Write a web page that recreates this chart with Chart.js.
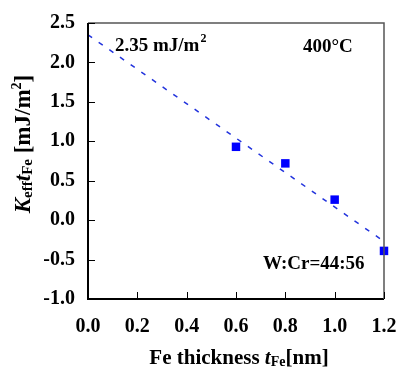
<!DOCTYPE html>
<html>
<head>
<meta charset="utf-8">
<script src="https://cdn.jsdelivr.net/npm/chart.js@4.4.0/dist/chart.umd.min.js"></script>
<style>
  html, body { margin: 0; padding: 0; background: #fff; }
  #wrap { width: 400px; height: 367px; }
</style>
</head>
<body>
<div id="wrap"><canvas id="chart" width="400" height="367"></canvas></div>
<script>
// Fe thickness (nm) and measured Keff*tFe (mJ/m^2)
var thickness = [0.6, 0.8, 1.0, 1.2];
var kefftFe = [0.93, 0.72, 0.26, -0.39];
// linear fit, intercept 2.35 mJ/m^2
var fitX = [0.0, 1.2];
var fitY = [2.35, -0.27];
var xTicks = [0.0, 0.2, 0.4, 0.6, 0.8, 1.0, 1.2];
var yTicks = [-1.0, -0.5, 0.0, 0.5, 1.0, 1.5, 2.0, 2.5];

var serif = "'Liberation Serif', 'Times New Roman', serif";

function toPoints(xs, ys) {
    var pts = [];
    for (var i = 0; i < xs.length; i++) {
        pts.push({ x: xs[i], y: ys[i] });
    }
    return pts;
}

// frame, inward ticks, titles and notes
var decor = {
    id: "decor",
    afterDraw: function (chart) {
        var ctx = chart.ctx;
        var a = chart.chartArea;
        var xs = chart.scales.x, ys = chart.scales.y;
        ctx.save();
        ctx.strokeStyle = "#000";
        ctx.lineWidth = 2;
        ctx.beginPath();
        ctx.moveTo(a.left, a.top);
        ctx.lineTo(a.left, a.bottom);
        ctx.lineTo(a.right, a.bottom);
        ctx.stroke();
        ctx.strokeStyle = "#555";
        ctx.lineWidth = 1.5;
        ctx.beginPath();
        ctx.moveTo(a.left, a.top);
        ctx.lineTo(a.right, a.top);
        ctx.lineTo(a.right, a.bottom);
        ctx.stroke();

        ctx.strokeStyle = "#000";
        ctx.lineWidth = 1;
        ctx.beginPath();
        xTicks.forEach(function (v) {
            var px = Math.round(xs.getPixelForValue(v)) + 0.5;
            ctx.moveTo(px, a.bottom);
            ctx.lineTo(px, a.bottom - 7);
        });
        yTicks.forEach(function (v) {
            var py = Math.round(ys.getPixelForValue(v)) + 0.5;
            ctx.moveTo(a.left, py);
            ctx.lineTo(a.left + 7, py);
        });
        ctx.stroke();

        ctx.fillStyle = "#000";
        ctx.textBaseline = "alphabetic";
        ctx.textAlign = "left";
        ctx.font = "bold 19px " + serif;
        ctx.fillText("2.35 mJ/m", 115, 51);
        var w = ctx.measureText("2.35 mJ/m").width;
        ctx.font = "bold 12px " + serif;
        ctx.fillText("2", 115 + w + 1, 42);
        ctx.font = "bold 19px " + serif;
        ctx.fillText("400°C", 303, 52);
        ctx.fillText("W:Cr=44:56", 263, 269);

        // x title
        var parts = [
            ["Fe thickness ", "bold 21px " + serif, 0],
            ["t", "bold italic 21px " + serif, 0],
            ["Fe", "bold 14px " + serif, 2],
            ["[nm]", "bold 21px " + serif, 0]
        ];
        drawParts(ctx, parts, 239, 364);

        // y title
        ctx.save();
        ctx.translate(30, 144);
        ctx.rotate(-Math.PI / 2);
        var yparts = [
            ["K", "bold italic 23px " + serif, 0],
            ["eff", "bold 15px " + serif, 2],
            ["t", "bold italic 23px " + serif, 0],
            ["Fe", "bold 15px " + serif, 2],
            [" [mJ/m", "bold 23px " + serif, 0],
            ["2", "bold 14px " + serif, -9],
            ["]", "bold 23px " + serif, 0]
        ];
        drawParts(ctx, yparts, 0, 0);
        ctx.restore();
        ctx.restore();
    }
};

function drawParts(ctx, parts, cx, baseY) {
    var total = 0;
    parts.forEach(function (p) {
        ctx.font = p[1];
        total += ctx.measureText(p[0]).width;
    });
    var x = cx - total / 2;
    ctx.textAlign = "left";
    parts.forEach(function (p) {
        ctx.font = p[1];
        ctx.fillText(p[0], x, baseY + p[2]);
        x += ctx.measureText(p[0]).width;
    });
}

var ctx = document.getElementById("chart").getContext("2d");
new Chart(ctx, {
    type: "scatter",
    data: {
        datasets: [{
            label: "fit",
            data: toPoints(fitX, fitY),
            showLine: true,
            borderColor: "#2233dd",
            borderWidth: 1.5,
            borderDash: [5, 8],
            pointRadius: 0,
            fill: false
        }, {
            label: "data",
            data: toPoints(thickness, kefftFe),
            pointStyle: "rect",
            pointRadius: 6,
            pointBackgroundColor: "#0000ff",
            pointBorderColor: "#0000ff",
            pointBorderWidth: 0
        }]
    },
    options: {
        responsive: false,
        animation: false,
        clip: false,
        layout: { padding: { top: 23, right: 16, left: 0, bottom: 0 } },
        plugins: { legend: { display: false }, tooltip: { enabled: false } },
        scales: {
            x: {
                type: "linear",
                min: 0, max: 1.2,
                afterBuildTicks: function (s) { s.ticks = xTicks.map(function (v) { return { value: v }; }); },
                afterFit: function (s) { s.height = 68; s.paddingLeft = 0; s.paddingRight = 0; },
                grid: { display: false, drawTicks: false },
                border: { display: false },
                ticks: {
                    color: "#000",
                    padding: 16,
                    font: { family: serif, size: 20, weight: "bold" },
                    callback: function (v) { return v.toFixed(1); }
                }
            },
            y: {
                type: "linear",
                min: -1.0, max: 2.5,
                afterBuildTicks: function (s) { s.ticks = yTicks.map(function (v) { return { value: v }; }); },
                afterFit: function (s) { s.width = 88; s.paddingTop = 0; s.paddingBottom = 0; },
                grid: { display: false, drawTicks: false },
                border: { display: false },
                ticks: {
                    color: "#000",
                    padding: 13,
                    font: { family: serif, size: 20, weight: "bold" },
                    callback: function (v) { return v.toFixed(1); }
                }
            }
        }
    },
    plugins: [decor]
});
</script>
</body>
</html>
